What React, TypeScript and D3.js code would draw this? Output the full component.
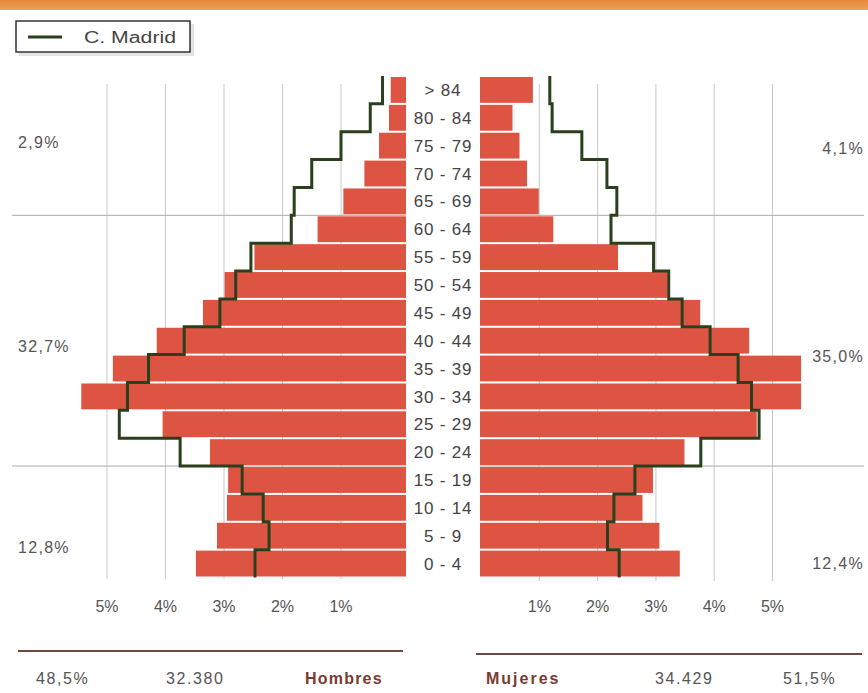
import React from "react";
import * as d3 from "d3";

const ageGroups = ["> 84", "80 - 84", "75 - 79", "70 - 74", "65 - 69", "60 - 64", "55 - 59", "50 - 54", "45 - 49", "40 - 44", "35 - 39", "30 - 34", "25 - 29", "20 - 24", "15 - 19", "10 - 14", "5 - 9", "0 - 4"];
const hombres = [0.15, 0.18, 0.35, 0.6, 0.96, 1.4, 2.48, 2.99, 3.36, 4.15, 4.9, 5.44, 4.05, 3.24, 2.93, 2.95, 3.12, 3.48];
const mujeres = [0.89, 0.54, 0.66, 0.79, 0.99, 1.24, 2.35, 3.2, 3.76, 4.6, 5.49, 5.49, 4.73, 3.49, 2.95, 2.77, 3.06, 3.41];
const madridHombres = [0.29, 0.5, 1.0, 1.5, 1.8, 1.85, 2.54, 2.8, 3.07, 3.68, 4.29, 4.65, 4.79, 3.75, 2.69, 2.33, 2.23, 2.47];
const madridMujeres = [1.18, 1.22, 1.73, 2.16, 2.33, 2.23, 2.96, 3.22, 3.45, 3.93, 4.41, 4.64, 4.77, 3.77, 2.64, 2.28, 2.17, 2.37];
const tickValues = [1, 2, 3, 4, 5];
const tickLabels = ["1%", "2%", "3%", "4%", "5%"];
const groupBreaks = ["65 - 69", "20 - 24"];
const pctHombres = ["2,9%", "32,7%", "12,8%"];
const pctMujeres = ["4,1%", "35,0%", "12,4%"];
const totalsHombres = ["48,5%", "32.380", "Hombres"];
const totalsMujeres = ["Mujeres", "34.429", "51,5%"];
const legendLabel = "C. Madrid";

const W = 868;
const H = 693;
const BAR = "#de5442";
const LINE = "#2a3f1c";
const TXT = "#555";
const FONT = "'Liberation Sans', Arial, sans-serif";

export default function App() {
  const y = d3.scaleBand<string>().domain(ageGroups).range([76, 577.5]).paddingInner(0);
  const xL = d3.scaleLinear().domain([0, 5]).range([399.5, 107]);
  const xR = d3.scaleLinear().domain([0, 5]).range([481, 772.5]);
  const leftEdge = 406;
  const rightEdge = 480;
  const bw = y.bandwidth();

  const stepPts = (vals: number[], sx: d3.ScaleLinear<number, number>) => {
    const pts: [number, number][] = [];
    ageGroups.forEach((a, i) => {
      const top = y(a)!;
      pts.push([sx(vals[i]), top]);
      pts.push([sx(vals[i]), top + bw]);
    });
    return pts;
  };
  const line = d3.line();
  const pathL = line(stepPts(madridHombres, xL))!;
  const pathR = line(stepPts(madridMujeres, xR))!;

  const breakYs = groupBreaks.map((g) => y(g)! + bw);

  const pctYL = [148, 352, 553];
  const pctYR = [154, 362, 569];

  return (
    <svg width={W} height={H} style={{ position: "absolute", left: 0, top: 0, display: "block", background: "#fff" }} fontFamily={FONT}>
      <defs>
        <linearGradient id="hdr" x1="0" x2="0" y1="0" y2="1">
          <stop offset="0" stopColor="#e7883a" />
          <stop offset="1" stopColor="#eea05a" />
        </linearGradient>
      </defs>
      <rect x={0} y={0} width={W} height={10} fill="url(#hdr)" />
      {/* legend */}
      <rect x={19} y={24} width={175} height={32} fill="#e4e4e4" />
      <rect x={16} y={21} width={174} height={31} fill="#fff" stroke="#333" strokeWidth={1.5} />
      <line x1={28} x2={62} y1={37} y2={37} stroke={LINE} strokeWidth={3} />
      <text x={84} y={43} fontSize={16} fill="#444" textLength={92} lengthAdjust="spacingAndGlyphs">{legendLabel}</text>

      {/* vertical gridlines */}
      {tickValues.map((t) => (
        <g key={"g" + t}>
          <line x1={xL(t)} x2={xL(t)} y1={84} y2={579} stroke="#c9c9c9" strokeWidth={1} />
          <line x1={xR(t)} x2={xR(t)} y1={84} y2={581} stroke="#c9c9c9" strokeWidth={1} />
        </g>
      ))}
      {/* horizontal group lines */}
      {breakYs.map((by, i) => (
        <g key={"b" + i}>
          <line x1={12} x2={leftEdge} y1={by} y2={by} stroke="#a9a9a9" strokeWidth={1} />
          <line x1={rightEdge} x2={864} y1={by} y2={by} stroke="#a9a9a9" strokeWidth={1} />
        </g>
      ))}

      {/* bars */}
      {ageGroups.map((a, i) => (
        <g key={a}>
          <rect x={xL(hombres[i])} y={y(a)! + 1} width={leftEdge - xL(hombres[i])} height={bw - 2} fill={BAR} />
          <rect x={rightEdge} y={y(a)! + 1} width={xR(mujeres[i]) - rightEdge} height={bw - 2} fill={BAR} />
          <text x={443} y={y(a)! + bw / 2} dy="0.36em" textAnchor="middle" fontSize={17} fill="#444" letterSpacing={0.8}>{a}</text>
        </g>
      ))}

      {/* Madrid lines */}
      <path d={pathL} fill="none" stroke={LINE} strokeWidth={3} strokeLinejoin="miter" />
      <path d={pathR} fill="none" stroke={LINE} strokeWidth={3} strokeLinejoin="miter" />

      {/* tick labels */}
      {tickValues.map((t, i) => (
        <g key={"t" + t}>
          <text x={xL(t)} y={612} textAnchor="middle" fontSize={16} fill={TXT}>{tickLabels[i]}</text>
          <text x={xR(t)} y={612} textAnchor="middle" fontSize={16} fill={TXT}>{tickLabels[i]}</text>
        </g>
      ))}

      {/* group percentages */}
      {pctHombres.map((p, i) => (
        <text key={"ph" + i} x={18} y={pctYL[i]} fontSize={16} fill={TXT} letterSpacing={1.3}>{p}</text>
      ))}
      {pctMujeres.map((p, i) => (
        <text key={"pm" + i} x={864} y={pctYR[i]} textAnchor="end" fontSize={16} fill={TXT} letterSpacing={1.3}>{p}</text>
      ))}

      {/* bottom totals */}
      <line x1={18} x2={403} y1={651} y2={651} stroke="#6e4a42" strokeWidth={2} />
      <line x1={476} x2={862} y1={654} y2={654} stroke="#6e4a42" strokeWidth={2} />
      <text x={36} y={684} fontSize={16} fill={TXT} letterSpacing={1.6}>{totalsHombres[0]}</text>
      <text x={166} y={684} fontSize={16} fill={TXT} letterSpacing={1.6}>{totalsHombres[1]}</text>
      <text x={305} y={684} fontSize={16} fontWeight="bold" fill="#7a3b32" letterSpacing={1.2}>{totalsHombres[2]}</text>
      <text x={486} y={684} fontSize={16} fontWeight="bold" fill="#7a3b32" letterSpacing={2}>{totalsMujeres[0]}</text>
      <text x={655} y={684} fontSize={16} fill={TXT} letterSpacing={1.6}>{totalsMujeres[1]}</text>
      <text x={783} y={684} fontSize={16} fill={TXT} letterSpacing={1.6}>{totalsMujeres[2]}</text>
    </svg>
  );
}
